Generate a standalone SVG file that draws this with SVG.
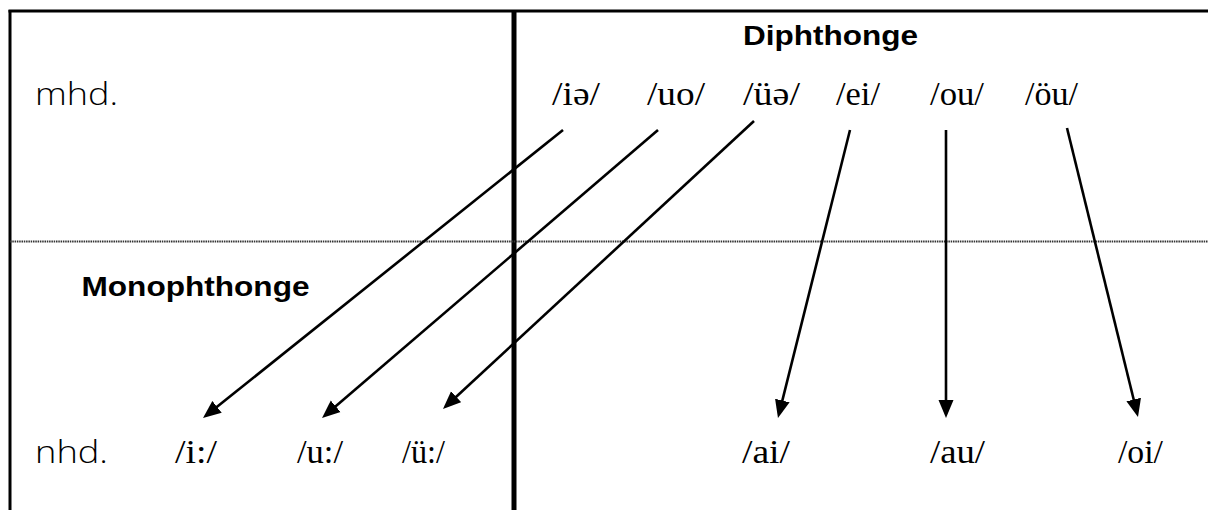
<svg xmlns="http://www.w3.org/2000/svg" width="1208" height="510" viewBox="0 0 1208 510">
<style>
.ipa{font-family:"Liberation Serif","Times New Roman",serif;font-size:34px;fill:#000}
.lab{font-family:"Open Sans","DejaVu Sans",sans-serif;font-weight:300;font-size:31px;fill:#000}
.head{font-family:"Liberation Sans",Arial,sans-serif;font-size:27px;font-weight:bold;fill:#000}
.arr{stroke:#000;stroke-width:2.6;fill:none;marker-end:url(#ah)}
</style>
<defs>
<marker id="ah" markerUnits="userSpaceOnUse" markerWidth="19" markerHeight="16" refX="8" refY="8" orient="auto">
<path d="M0,0.5 L18,8 L0,15.5 z" fill="#000"/>
</marker>
</defs>
<rect width="1208" height="510" fill="#fff"/>
<g id="frame">
<line x1="8.5" y1="11" x2="1208" y2="11" stroke="#000" stroke-width="3"/>
<line x1="10" y1="10" x2="10" y2="510" stroke="#000" stroke-width="3"/>
<line x1="514" y1="10" x2="514" y2="510" stroke="#000" stroke-width="5"/>
<line x1="10" y1="241.5" x2="1208" y2="241.5" stroke="#333" stroke-width="2" stroke-dasharray="1.5 0.8"/>
</g>
<g id="row-labels">
<text id="mhd" class="lab" x="35" y="104.5" textLength="83" lengthAdjust="spacingAndGlyphs">mhd.</text>
<text id="nhd" class="lab" x="35" y="462.5" textLength="73" lengthAdjust="spacingAndGlyphs">nhd.</text>
</g>
<g id="headings">
<text id="diphthonge" class="head" x="743" y="45" textLength="175" lengthAdjust="spacingAndGlyphs">Diphthonge</text>
<text id="monophthonge" class="head" x="81.5" y="296" textLength="228" lengthAdjust="spacingAndGlyphs">Monophthonge</text>
</g>
<g id="n-ie"><text class="ipa" x="552" y="105" textLength="48" lengthAdjust="spacingAndGlyphs">/iə/</text></g>
<g id="n-uo"><text class="ipa" x="647" y="105" textLength="58" lengthAdjust="spacingAndGlyphs">/uo/</text></g>
<g id="n-ue"><text class="ipa" x="743" y="105" textLength="57" lengthAdjust="spacingAndGlyphs">/üə/</text></g>
<g id="n-ei"><text class="ipa" x="836" y="105" textLength="44" lengthAdjust="spacingAndGlyphs">/ei/</text></g>
<g id="n-ou"><text class="ipa" x="930" y="105" textLength="54" lengthAdjust="spacingAndGlyphs">/ou/</text></g>
<g id="n-oeu"><text class="ipa" x="1025" y="105" textLength="53" lengthAdjust="spacingAndGlyphs">/öu/</text></g>
<g id="n-i"><text class="ipa" x="175" y="463" textLength="42" lengthAdjust="spacingAndGlyphs">/i:/</text></g>
<g id="n-u"><text class="ipa" x="297" y="463" textLength="46" lengthAdjust="spacingAndGlyphs">/u:/</text></g>
<g id="n-ü"><text class="ipa" x="402" y="463" textLength="43" lengthAdjust="spacingAndGlyphs">/ü:/</text></g>
<g id="n-ai"><text class="ipa" x="742" y="463" textLength="48" lengthAdjust="spacingAndGlyphs">/ai/</text></g>
<g id="n-au"><text class="ipa" x="930" y="463" textLength="55" lengthAdjust="spacingAndGlyphs">/au/</text></g>
<g id="n-oi"><text class="ipa" x="1118" y="463" textLength="45" lengthAdjust="spacingAndGlyphs">/oi/</text></g>
<g id="connectors">
<line class="arr" x1="563" y1="130" x2="210.8" y2="411.8"/>
<line class="arr" x1="658" y1="130" x2="329.6" y2="411.5"/>
<line class="arr" x1="754" y1="121" x2="450.3" y2="402.2"/>
<line class="arr" x1="850" y1="130" x2="780.4" y2="408.3"/>
<line class="arr" x1="946" y1="130" x2="946" y2="408"/>
<line class="arr" x1="1067" y1="128" x2="1135.6" y2="407.3"/>
</g>
</svg>
